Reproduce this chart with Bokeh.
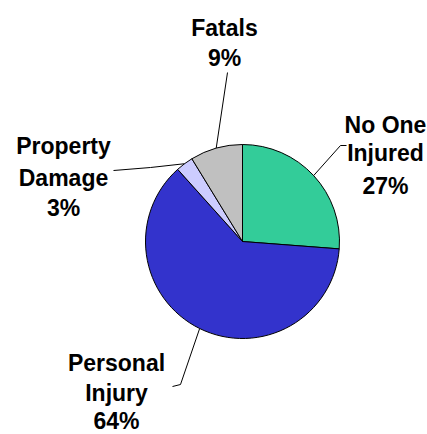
import numpy as np
from bokeh.plotting import figure
from bokeh.models import Range1d, ColumnDataSource
from bokeh.core.properties import value
from bokeh.embed import file_html
from bokeh.resources import INLINE

# ---- data ----
categories = ["No One Injured", "Personal Injury", "Property Damage", "Fatals"]
values = [27, 64, 3, 9]
pct_labels = ["27%", "64%", "3%", "9%"]
name_lines = [["No One", "Injured"], ["Personal", "Injury"], ["Property", "Damage"], ["Fatals"]]
colors = ["#33CC99", "#3333CC", "#CCCCFF", "#C0C0C0"]

# ---- layout (picture pixel coordinates, y downward) ----
W, H = 427, 434
CX, CY, R = 242, 241, 97
FONT = "Liberation Sans"
FSIZE = "23px"
label_x = [385, 116, 63, 224]
label_baselines = [[124, 152, 185], [362, 392, 420], [145, 177, 207], [27, 57]]
leader_elbows = [
    [(346, 145), (340, 145)],
    [(172, 386), (180, 384)],
    [(113, 170), (150, 167)],
    [(227, 72)],
]

def yd(y_img):
    return H - y_img

p = figure(width=W, height=H, output_backend="svg", toolbar_location=None,
           x_range=Range1d(0, W), y_range=Range1d(0, H),
           min_border=0, match_aspect=False)
p.axis.visible = False
p.grid.visible = False
p.outline_line_color = None
p.background_fill_color = "white"
p.border_fill_color = "white"

vals = np.array(values, dtype=float)
frac = vals / vals.sum()
ends = np.cumsum(frac)
starts = ends - frac
theta_s = starts * 2 * np.pi
theta_e = ends * 2 * np.pi

src = ColumnDataSource(dict(
    x=[CX] * len(values), y=[yd(CY)] * len(values),
    start=list(np.pi / 2 - theta_s), end=list(np.pi / 2 - theta_e),
    color=colors, cat=categories,
))
p.wedge(x="x", y="y", radius=R, start_angle="start", end_angle="end",
        direction="clock", fill_color="color", line_color="black",
        line_width=1, source=src)

# leader lines: from label elbows to slice mid-angle on the rim
mid = (theta_s + theta_e) / 2
for i in range(len(values)):
    ex = CX + R * np.sin(mid[i])
    ey = CY - R * np.cos(mid[i])
    pts = leader_elbows[i] + [(ex, ey)]
    p.line([q[0] for q in pts], [yd(q[1]) for q in pts], line_color="black", line_width=1)

# labels
tx, ty, tt = [], [], []
for i in range(len(values)):
    lines = name_lines[i] + [pct_labels[i]]
    for ln, b in zip(lines, label_baselines[i]):
        tx.append(label_x[i]); ty.append(yd(b)); tt.append(ln)
p.text(x=tx, y=ty, text=tt, text_align="center", text_baseline="alphabetic",
       text_font=value(FONT), text_font_style="bold", text_font_size=FSIZE,
       text_color="black")

open("out.html", "w").write(file_html(p, INLINE))
